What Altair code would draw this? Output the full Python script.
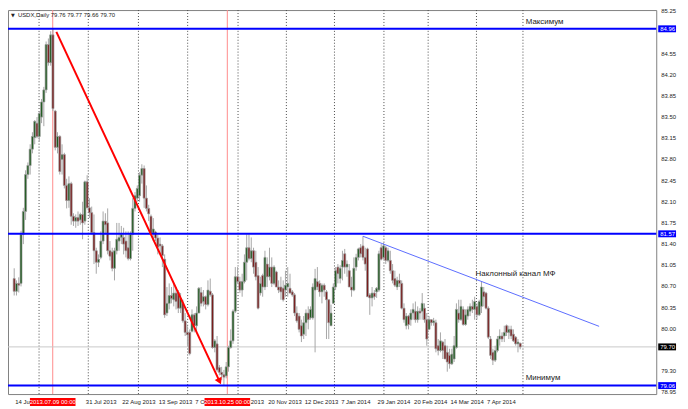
import altair as alt
import pandas as pd

# ---------------- data ----------------
opens = [80.83,80.62,80.75,80.75,81.56,81.94,82.55,82.70,82.97,83.16,83.40,83.18,83.50,83.75,83.95,84.70,84.40,84.86,83.60,83.00,
         83.18,82.80,82.88,82.37,82.12,82.40,81.86,81.78,81.84,81.80,81.89,81.78,82.43,82.00,81.92,81.59,81.29,81.10,81.18,81.45,
         81.78,81.75,81.29,81.27,81.00,81.29,81.45,81.51,81.51,81.45,81.34,81.16,81.56,81.99,82.16,82.20,82.54,82.65,82.16,81.99,
         81.86,81.58,81.60,81.50,81.40,81.37,81.15,80.26,80.42,80.55,80.48,80.59,80.60,80.34,80.42,80.13,79.94,79.94,79.96,80.23,
         80.05,80.26,80.60,80.45,80.53,80.40,80.62,80.56,79.69,79.75,79.36,79.28,79.24,79.22,79.37,79.69,79.80,80.29,80.86,80.78,
         80.64,80.78,81.10,81.34,81.16,81.29,81.10,80.88,80.59,80.88,80.69,
         81.07,80.86,81.02,80.75,80.94,80.69,80.69,80.67,80.64,80.69,80.67,80.61,80.56,80.26,80.21,80.05,79.91,80.10,80.26,80.18,
         80.18,80.64,80.78,80.75,80.61,80.72,80.61,80.48,80.05,80.42,80.69,81.02,80.83,81.02,81.24,81.02,80.96,80.69,80.64,81.02,
         81.18,81.34,81.37,81.18,81.32,80.56,80.51,80.59,80.61,80.64,81.34,81.18,81.34,81.13,81.13,80.96,80.83,80.69,80.80,80.75,
         80.34,80.05,80.21,80.15,80.26,80.29,80.15,80.29,80.29,80.34,80.15,79.99,80.15,80.10,80.10,79.72,79.64,79.78,79.72,79.61,
         79.56,79.42,79.50,79.69,80.26,80.15,80.32,80.07,80.21,80.29,80.37,80.32,80.37,80.23,80.37,80.61,80.59,80.34,79.83,79.61,
         79.48,79.64,79.83,79.88,79.88,80.05,79.94,79.99,79.91,79.86,79.75,79.76]
highs = [81.00,80.80,80.85,81.62,82.00,82.62,82.75,83.05,83.25,83.45,83.50,83.60,83.80,84.00,84.75,84.80,84.92,84.96,83.62,83.25,
         83.20,83.05,82.91,82.48,82.52,82.43,81.91,81.89,81.94,81.92,82.10,82.45,82.54,82.16,82.02,81.89,81.34,81.23,81.61,81.94,
         81.91,81.99,81.45,81.34,81.34,81.75,81.75,81.70,81.67,81.61,81.61,81.61,82.16,82.26,82.37,82.59,82.72,82.70,82.37,82.05,
         81.89,81.83,81.62,81.56,81.51,81.40,81.23,80.69,80.75,80.69,80.75,80.69,80.64,80.59,80.48,80.26,80.04,79.99,80.32,80.26,
         80.37,80.69,80.69,80.64,80.55,80.80,80.83,80.59,79.83,79.88,79.40,79.37,79.32,79.45,79.72,79.99,80.32,81.02,81.02,80.86,
         80.91,81.23,81.56,81.56,81.51,81.34,81.29,81.02,80.86,80.91,81.29,
         81.18,81.34,81.18,81.05,80.96,80.80,80.86,80.80,80.96,81.02,80.91,80.64,80.59,80.37,80.26,80.15,80.21,80.32,80.37,80.37,
         80.75,80.99,81.02,80.80,80.75,80.75,80.64,80.48,80.40,80.75,81.02,81.07,81.05,81.29,81.32,81.13,81.07,80.86,81.18,81.24,
         81.34,81.40,81.53,81.34,81.34,80.59,80.69,80.64,80.69,81.29,81.40,81.42,81.37,81.34,81.29,81.07,80.96,80.86,80.91,80.80,
         80.42,80.26,80.23,80.32,80.42,80.45,80.37,80.34,80.59,80.42,80.26,80.21,80.15,80.18,80.15,79.83,79.94,79.80,79.83,79.72,
         79.67,79.67,79.88,80.42,80.48,80.48,80.37,80.32,80.37,80.42,80.48,80.53,80.42,80.48,80.78,80.69,80.61,80.37,79.88,79.67,
         79.72,79.88,79.99,79.94,80.05,80.07,80.05,80.05,79.99,79.88,79.83,79.77]
lows = [80.55,80.55,80.60,80.70,81.40,81.80,82.48,82.55,82.90,83.05,83.15,83.10,83.40,83.35,83.90,84.35,84.35,83.60,82.95,82.90,
        82.55,82.55,82.32,81.99,82.00,81.72,81.70,81.67,81.70,81.72,81.48,81.72,81.99,81.83,81.56,81.07,80.91,81.02,81.15,81.40,
        81.56,81.23,81.13,80.95,80.80,81.23,81.29,81.40,81.23,81.18,81.13,81.13,81.29,81.94,82.10,82.10,82.40,82.00,81.94,81.78,
        81.56,81.45,81.45,81.23,81.23,81.02,80.18,80.21,80.32,80.42,80.37,80.32,80.26,80.26,80.10,79.88,79.72,79.56,79.94,79.94,
        79.94,80.26,80.37,80.37,80.32,80.37,80.53,79.67,79.61,79.29,79.23,79.15,79.06,79.18,79.29,79.67,79.75,80.26,80.75,80.59,
        80.53,80.75,80.80,81.13,81.10,80.91,80.80,80.32,80.55,80.53,80.64,
        80.69,80.80,80.69,80.72,80.69,80.59,80.48,80.45,80.53,80.53,80.59,80.53,80.21,80.10,79.94,79.78,79.83,79.88,79.99,80.15,
        80.15,79.61,80.64,80.53,80.42,80.53,79.83,79.83,80.05,80.42,80.64,80.75,80.75,80.80,80.91,80.86,80.69,80.53,80.62,80.96,
        81.13,81.18,81.13,80.96,80.53,80.23,80.37,80.48,80.51,80.61,81.13,81.15,81.07,81.10,80.91,80.75,80.69,80.64,80.69,80.32,
        80.10,79.99,79.99,80.05,80.15,80.10,80.10,80.15,80.15,80.10,79.72,79.99,80.05,80.05,79.61,79.56,79.61,79.50,79.50,79.29,
        79.34,79.40,79.45,79.67,80.10,80.13,80.05,80.05,80.15,80.21,80.26,80.15,80.15,80.21,80.26,80.37,80.32,79.83,79.50,79.40,
        79.45,79.61,79.72,79.78,79.78,79.88,79.83,79.83,79.78,79.72,79.61,79.66]
closes = [80.62,80.75,80.72,81.56,81.94,82.55,82.70,82.97,83.18,83.43,83.18,83.56,83.75,83.95,84.70,84.40,84.86,83.64,83.00,83.18,
          82.60,82.88,82.37,82.12,82.40,81.86,81.78,81.84,81.78,81.89,81.75,82.43,82.00,81.92,81.59,81.29,81.10,81.15,81.45,81.78,
          81.72,81.29,81.20,81.00,81.29,81.48,81.51,81.56,81.40,81.29,81.16,81.56,81.99,82.20,82.32,82.54,82.65,82.16,81.99,81.90,
          81.58,81.65,81.50,81.35,81.37,81.21,80.23,80.42,80.55,80.50,80.59,80.45,80.34,80.50,80.13,79.94,79.90,79.59,80.23,80.05,
          80.26,80.67,80.42,80.53,80.40,80.64,80.56,79.69,79.80,79.32,79.28,79.24,79.20,79.37,79.69,79.80,80.29,80.86,80.78,80.64,
          80.78,81.10,81.34,81.16,81.29,81.02,80.86,80.34,80.75,80.69,81.18,
          80.86,81.02,80.75,81.02,80.69,80.64,80.61,80.48,80.72,80.75,80.59,80.56,80.26,80.13,79.99,79.88,80.10,80.26,80.15,80.32,
          80.69,80.83,80.69,80.61,80.72,80.64,80.48,80.10,80.26,80.69,80.96,80.91,81.00,81.13,81.02,81.07,80.69,80.64,81.00,81.18,
          81.32,81.24,81.18,81.07,80.53,80.51,80.59,80.53,80.67,81.24,81.15,81.37,81.13,81.29,80.96,80.80,80.72,80.80,80.75,80.34,
          80.15,80.21,80.07,80.26,80.32,80.15,80.29,80.26,80.42,80.15,79.83,80.15,80.10,80.13,79.67,79.64,79.80,79.64,79.50,79.45,
          79.42,79.58,79.72,80.32,80.15,80.37,80.07,80.23,80.32,80.37,80.32,80.45,80.23,80.45,80.69,80.53,80.34,79.86,79.56,79.48,
          79.64,79.83,79.88,79.83,79.94,79.94,79.99,79.88,79.80,79.75,79.78,79.70]

date_bars = [0, 31, 47, 63, 79, 95, 111, 127, 143, 159, 175, 191, 207]
date_labels = ["14 Jun 2013", "31 Jul 2013", "22 Aug 2013", "13 Sep 2013", "7 Oct 2013",
               "29 Oct 2013", "20 Nov 2013", "12 Dec 2013", "7 Jan 2014", "29 Jan 2014", "20 Feb 2014",
               "14 Mar 2014", "7 Apr 2014"]
grid_bars = [10.9, 32.5, 54.5, 76.1, 98.2, 119.4, 140.5, 162.2, 181.6, 202.8, 223.2]
price_ticks = [78.95, 79.30, 79.65, 80.00, 80.35, 80.70, 81.05, 81.40, 81.75, 82.10, 82.45,
               82.80, 83.15, 83.50, 83.85, 84.20, 84.55, 84.90, 85.25]
# labels of 84.90 and 79.65 are covered by the price boxes in the reference
price_labels = [78.95, 79.30, 80.00, 80.35, 80.70, 81.05, 81.40, 81.75, 82.10, 82.45,
                82.80, 83.15, 83.50, 83.85, 84.20, 84.55, 85.25]

level_prices = [84.96, 81.57, 79.06]
current_price = 79.70

vline_bars = [16.9, 93.5]
vline_labels = ["2013.07.09 00:00", "2013.10.25 00:00"]

arrow_bars = [18.5, 90.1]
arrow_prices = [84.91, 79.13]

trend_bars = [153, 256.6]
trend_prices = [81.53, 80.04]

notes_bar = [224.4, 224.4, 202.4]
notes_price = [85.07, 79.19, 80.90]
notes_text = ["Максимум", "Минимум", "Наклонный канал МФ"]

header = "USDX,Daily  79.76 79.77 79.66 79.70"

# ---------------- chart ----------------
W, H = 655, 388
FONT = "Liberation Sans"
xs = alt.Scale(domain=[-0.55, 279.5], nice=False, zero=False)
ys = alt.Scale(domain=[78.92, 85.27], nice=False, zero=False)

n = len(opens)
df = pd.DataFrame({
    "bar": list(range(n)), "open": opens, "high": highs, "low": lows, "close": closes,
})
df["high"] = df[["high", "open", "close"]].max(axis=1)
df["low"] = df[["low", "open", "close"]].min(axis=1)
df["dir"] = ["up" if c >= o else "down" for o, c in zip(df["open"], df["close"])]

grid = alt.Chart(pd.DataFrame({"bar": grid_bars})).mark_rule(
    color="#4a4a4a", strokeDash=[1, 2], strokeWidth=1
).encode(x=alt.X("bar:Q", scale=xs, axis=None), y=alt.value(0), y2=alt.value(H))

vlines = alt.Chart(pd.DataFrame({"bar": vline_bars})).mark_rule(
    color="#ff8c8c", strokeWidth=1
).encode(x=alt.X("bar:Q", scale=xs, axis=None), y=alt.value(0), y2=alt.value(H))

cur = alt.Chart(pd.DataFrame({"p": [current_price]})).mark_rule(
    color="#c8c8c8", strokeWidth=1
).encode(y=alt.Y("p:Q", scale=ys, axis=None), x=alt.value(0), x2=alt.value(W))

wicks = alt.Chart(df).mark_rule(color="#a6a6a6", strokeWidth=1).encode(
    x=alt.X("bar:Q", scale=xs, title=None,
            axis=alt.Axis(values=date_bars, labels=False, tickSize=3, tickColor="#666",
                          domain=False, grid=False)),
    y=alt.Y("low:Q", scale=ys, title=None,
            axis=alt.Axis(orient="right", values=price_ticks, labels=False, tickSize=3,
                          tickColor="#666", domainColor="#777", grid=False)),
    y2="high:Q",
)

price_text = alt.Chart(pd.DataFrame({"p": price_labels})).mark_text(
    align="left", baseline="middle", font=FONT, fontSize=6, color="#222"
).encode(y=alt.Y("p:Q", scale=ys, axis=None), x=alt.value(W + 5), text=alt.Text("p:Q", format=".2f"))

bodies = alt.Chart(df).mark_bar(size=2, stroke="#9a9a9a", strokeWidth=0.7).encode(
    x=alt.X("bar:Q", scale=xs, axis=None),
    y=alt.Y("open:Q", scale=ys, axis=None),
    y2="close:Q",
    color=alt.Color("dir:N", scale=alt.Scale(domain=["up", "down"], range=["#1f5a1f", "#7a1c1c"]),
                    legend=None),
)

levels = alt.Chart(pd.DataFrame({"p": level_prices})).mark_rule(
    color="#0000ff", strokeWidth=2
).encode(y=alt.Y("p:Q", scale=ys, axis=None), x=alt.value(0), x2=alt.value(W))

arrow_df = pd.DataFrame({"bar": arrow_bars, "p": arrow_prices, "o": [0, 1]})
arrow_line = alt.Chart(arrow_df).mark_line(color="#ff0000", strokeWidth=2).encode(
    x=alt.X("bar:Q", scale=xs, axis=None), y=alt.Y("p:Q", scale=ys, axis=None), order="o:Q")
arrow_head = alt.Chart(arrow_df.iloc[[1]]).mark_point(
    shape="triangle-up", filled=True, angle=154.6, size=60, color="#ff0000", opacity=1
).encode(x=alt.X("bar:Q", scale=xs, axis=None), y=alt.Y("p:Q", scale=ys, axis=None))

trend = alt.Chart(pd.DataFrame({"bar": trend_bars, "p": trend_prices})).mark_line(
    color="#5b6cff", strokeWidth=1
).encode(x=alt.X("bar:Q", scale=xs, axis=None), y=alt.Y("p:Q", scale=ys, axis=None))

notes = alt.Chart(pd.DataFrame({"bar": notes_bar, "p": notes_price, "t": notes_text})).mark_text(
    align="left", baseline="middle", font=FONT, fontSize=8, color="#222"
).encode(x=alt.X("bar:Q", scale=xs, axis=None), y=alt.Y("p:Q", scale=ys, axis=None), text="t:N")

date_text = alt.Chart(pd.DataFrame({"bar": date_bars, "t": date_labels})).mark_text(
    align="left", baseline="middle", font=FONT, fontSize=6, color="#222", dx=1
).encode(x=alt.X("bar:Q", scale=xs, axis=None), y=alt.value(H + 8), text="t:N")

vbox_df = pd.DataFrame({"bar": vline_bars, "t": vline_labels})
vbox = alt.Chart(vbox_df).transform_calculate(
    lo="datum.bar - 10", hi="datum.bar + 10"
).mark_rule(color="#ff0000", strokeWidth=8, strokeCap="butt").encode(
    x=alt.X("lo:Q", scale=xs, axis=None), x2="hi:Q", y=alt.value(H + 8))
vbox_text = alt.Chart(vbox_df).mark_text(
    align="center", baseline="middle", font=FONT, fontSize=6, color="white"
).encode(x=alt.X("bar:Q", scale=xs, axis=None), y=alt.value(H + 8), text="t:N")

pbox_df = pd.DataFrame({
    "p": level_prices + [current_price],
    "t": [f"{v:.2f}" for v in level_prices + [current_price]],
    "k": ["level", "level", "level", "current"],
})
pbox = alt.Chart(pbox_df).mark_rule(strokeWidth=7, strokeCap="butt").encode(
    y=alt.Y("p:Q", scale=ys, axis=None), x=alt.value(W + 2), x2=alt.value(W + 20),
    color=alt.Color("k:N", scale=alt.Scale(domain=["level", "current"], range=["#0000ff", "#000000"]),
                    legend=None))
pbox_text = alt.Chart(pbox_df).mark_text(
    align="left", baseline="middle", font=FONT, fontSize=6, color="white"
).encode(y=alt.Y("p:Q", scale=ys, axis=None), x=alt.value(W + 4), text="t:N")

head = alt.Chart(pd.DataFrame({"t": [header]})).mark_text(
    align="left", baseline="middle", font=FONT, fontSize=6, color="#222"
).encode(x=alt.value(10), y=alt.value(5), text="t:N")
head_tri = alt.Chart(pd.DataFrame({"t": ["▼"]})).mark_text(
    align="left", baseline="middle", font="DejaVu Sans", fontSize=5, color="#222"
).encode(x=alt.value(3), y=alt.value(5), text="t:N")

chart = alt.layer(
    grid, vlines, cur, wicks, price_text, bodies, levels, arrow_line, arrow_head, trend,
    notes, date_text, vbox, vbox_text, pbox, pbox_text, head, head_tri
).resolve_scale(color="independent").properties(
    width=W, height=H,
    autosize=alt.AutoSizeParams(type="none"),
    padding={"left": 0, "top": 0, "right": 24, "bottom": 13},
    background="white",
).configure_view(stroke="#808080", strokeWidth=1)

chart.save("out.html", embed_options={"renderer": "svg", "actions": False})
